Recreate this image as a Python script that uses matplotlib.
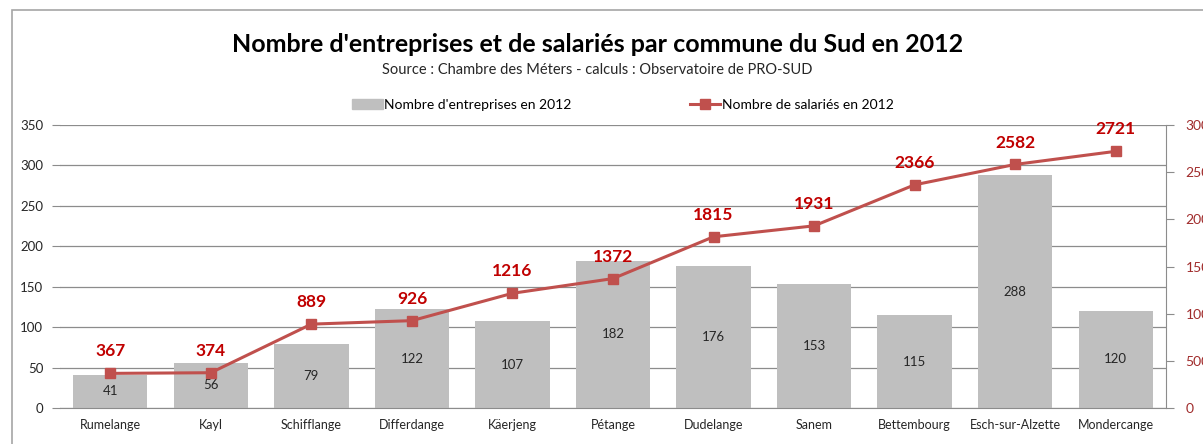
import matplotlib.pyplot as plt
from matplotlib.patches import Rectangle
from matplotlib.lines import Line2D
import numpy as np

communes = ["Rumelange", "Kayl", "Schifflange", "Differdange", "Käerjeng", "Pétange",
            "Dudelange", "Sanem", "Bettembourg", "Esch-sur-Alzette", "Mondercange"]
entreprises = [41, 56, 79, 122, 107, 182, 176, 153, 115, 288, 120]
salaries = [367, 374, 889, 926, 1216, 1372, 1815, 1931, 2366, 2582, 2721]

plt.rcParams['font.family'] = ['Lato', 'DejaVu Sans']

W, H = 1203, 444
fig = plt.figure(figsize=(W / 100, H / 100), dpi=100)

# outer chart frame
fig.patches.append(Rectangle((12 / W, -0.1), 1.2, 1 - 10 / H + 0.1, transform=fig.transFigure,
                             fill=False, edgecolor="#a6a6a6", linewidth=1.2))

ax = fig.add_axes([60 / W, 1 - 408 / H, (1166 - 60) / W, (408 - 125) / H])
x = np.arange(len(communes))

ax.bar(x, entreprises, width=0.74, color="#bfbfbf", zorder=2)
for xi, v in zip(x, entreprises):
    ax.text(xi, v / 2, str(v), ha="center", va="center", fontsize=9.5, color="#262626", zorder=3)

ax.set_ylim(0, 350)
ax.set_xlim(-0.5, len(communes) - 0.5)
ax.set_yticks(range(0, 351, 50))
ax.grid(axis="y", color="#8c8c8c", linewidth=0.9, zorder=0)
ax.set_xticks(x)
ax.set_xticklabels(communes, fontsize=9)
ax.tick_params(axis="x", length=0, pad=8, colors="#262626")
ax.tick_params(axis="y", length=6, color="#8c8c8c", labelsize=9.5, labelcolor="#262626", pad=6)
for s in ["top", "right", "left"]:
    ax.spines[s].set_visible(False)
ax.spines["bottom"].set_color("#8c8c8c")

ax2 = ax.twinx()
ax2.plot(x, salaries, color="#c0504d", linewidth=2.2, marker="s", markersize=7,
         markerfacecolor="#c0504d", markeredgecolor="#c0504d", zorder=4)
for xi, v in zip(x, salaries):
    ax2.annotate(str(v), (xi, v), xytext=(0, 10), textcoords="offset points", ha="center",
                 va="bottom", fontsize=12.5, fontweight="bold", color="#c00000")
ax2.set_ylim(0, 3000)
ax2.set_yticks(range(0, 3001, 500))
ax2.tick_params(axis="y", length=6, color="#8c8c8c", labelsize=10, labelcolor="#a02b2b", pad=8)
for s in ["top", "left", "bottom"]:
    ax2.spines[s].set_visible(False)
ax2.spines["right"].set_color("#8c8c8c")

fig.text(598 / W, 1 - 45 / H, "Nombre d'entreprises et de salariés par commune du Sud en 2012",
         ha="center", va="center", fontsize=18, fontweight="bold", color="#000000")
fig.text(597 / W, 1 - 70 / H, "Source : Chambre des Méters - calculs : Observatoire de PRO-SUD",
         ha="center", va="center", fontsize=10.5, color="#262626")

handles = [Rectangle((0, 0), 1, 1, color="#bfbfbf"),
           Line2D([], [], color="#c0504d", linewidth=2.2, marker="s", markersize=7)]
fig.legend(handles, ["Nombre d'entreprises en 2012", "Nombre de salariés en 2012"],
           loc="center", bbox_to_anchor=(623 / W, 1 - 105 / H), ncol=2, frameon=False,
           fontsize=10, columnspacing=8.5, handlelength=2.2, handletextpad=0.1)

fig.savefig("out.png", dpi=100)
